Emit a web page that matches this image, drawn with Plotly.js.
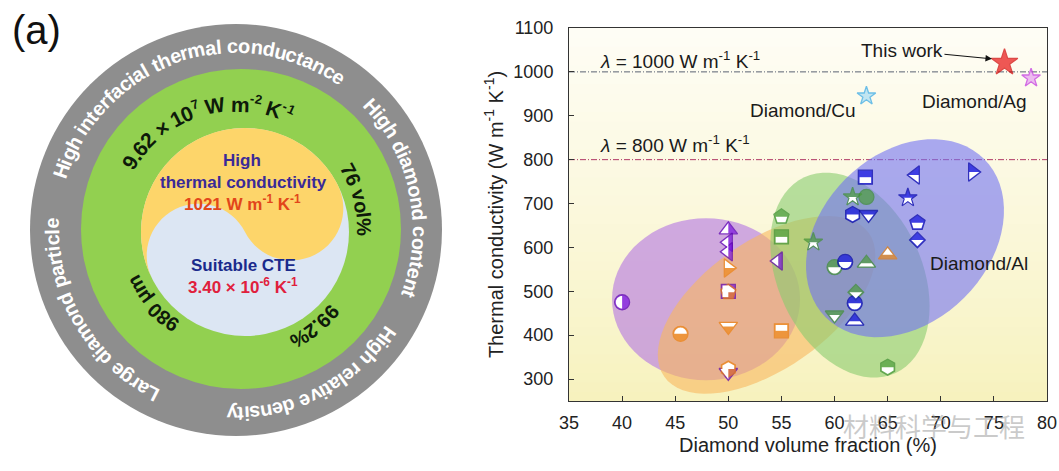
<!DOCTYPE html>
<html><head><meta charset="utf-8">
<script src="https://cdn.plot.ly/plotly-3.0.1.min.js"></script>
<style>html,body{margin:0;padding:0;background:#fff}#chart{width:1059px;height:471px}</style>
</head><body><div id="chart"></div>
<script>
// ================= DATA (panel b) =================
// Diamond/Al composites (blue)
const alX = [62.9, 61.7, 63.2, 67.6, 73.0, 66.9, 67.8, 67.8, 61.0, 61.9, 61.9];
const alY = [760, 675, 675, 765, 772, 713, 656, 617, 567, 473, 432];
const alSym = ['square','hexagon','triangle-down','triangle-left','triangle-right','star','pentagon','diamond','circle','circle','triangle-up'];
// green group
const grX = [55, 55, 58, 61.7, 63, 60, 63, 62, 60, 65];
const grY = [670, 624, 612, 715, 715, 555, 564, 498, 446, 327];
const grSym = ['pentagon','square','star','star','circle','circle','triangle-up','diamond','triangle-down','hexagon'];
// orange group
const orX = [50, 50, 50, 45.5, 55, 50, 65];
const orY = [553, 498, 420, 403, 410, 323, 583];
const orSym = ['triangle-right','pentagon','triangle-down','circle','square','hexagon','triangle-up'];
// purple group
const puX = [40, 50, 50, 50, 54.7, 50, 50];
const puY = [475, 640, 612, 590, 569, 500, 315];
const puSym = ['circle','triangle-up','triangle-left','triangle-left','triangle-left','square','triangle-down'];
// highlighted references
const refNames = ['This work', 'Diamond/Cu', 'Diamond/Ag'];
const refX = [76, 63, 78.5];
const refY = [1021, 945, 986];
// axes ticks and reference lines
const xTicks = [35, 40, 45, 50, 55, 60, 65, 70, 75, 80];
const yTicks = [300, 400, 500, 600, 700, 800, 900, 1000, 1100];
const lambdaValues = [1000, 800];

// ================= STYLE =================
const FONT = 'Liberation Sans, Arial, sans-serif';
const symSize = {'star':14,'circle':15,'square':14,'diamond':12,'pentagon':16,'hexagon':16,
  'triangle-up':16,'triangle-down':16,'triangle-left':16,'triangle-right':16};
const groups = [
  {x:puX, y:puY, sym:puSym, fill:'#7a12e0', line:'#5a00b0', white:'left'},
  {x:orX, y:orY, sym:orSym, fill:'#f08a1a', line:'#ec8010', white:'top'},
  {x:grX, y:grY, sym:grSym, fill:'#4e9e3e', line:'#3f8f33', white:'bottom', solid:[4]},
  {x:alX, y:alY, sym:alSym, fill:'#1212e0', line:'#0000a8', white:'bottom'}
];

function symPoly(sym, r){
  const s3 = Math.sqrt(3);
  switch(sym){
    case 'circle': {const p=[];for(let i=0;i<40;i++){const a=i/40*2*Math.PI;p.push([r*Math.cos(a),r*Math.sin(a)]);}return p;}
    case 'square': return [[r,r],[-r,r],[-r,-r],[r,-r]];
    case 'diamond': {const d=r*1.3;return [[d,0],[0,d],[-d,0],[0,-d]];}
    case 'triangle-up': {const t=r*2/s3;return [[-t,r/2],[t,r/2],[0,-r]];}
    case 'triangle-down': {const t=r*2/s3;return [[-t,-r/2],[t,-r/2],[0,r]];}
    case 'triangle-left': {const t=r*2/s3;return [[r/2,-t],[r/2,t],[-r,0]];}
    case 'triangle-right': {const t=r*2/s3;return [[-r/2,-t],[-r/2,t],[r,0]];}
    case 'pentagon': return [[r*0.951,-r*0.309],[r*0.588,r*0.809],[-r*0.588,r*0.809],[-r*0.951,-r*0.309],[0,-r]];
    case 'hexagon': {const x=r*s3/2;return [[x,-r/2],[x,r/2],[0,r],[-x,r/2],[-x,-r/2],[0,-r]];}
    case 'star': {const q=r*1.4;return [[q*0.225,-q*0.309],[q*0.951,-q*0.309],[q*0.363,q*0.118],[q*0.588,q*0.809],[0,q*0.382],[-q*0.588,q*0.809],[-q*0.363,q*0.118],[-q*0.951,-q*0.309],[-q*0.225,-q*0.309],[0,-q]];}
  }
  return [];
}
function clipPoly(poly, f){
  const out=[];
  for(let i=0;i<poly.length;i++){
    const a=poly[i], b=poly[(i+1)%poly.length], fa=f(a), fb=f(b);
    if(fa>=0) out.push(a);
    if((fa>=0)!==(fb>=0)){const t=fa/(fa-fb);out.push([a[0]+t*(b[0]-a[0]),a[1]+t*(b[1]-a[1])]);}
  }
  return out;
}
const halfTest = {bottom:p=>p[1], top:p=>-p[1], left:p=>-p[0]};

const traces = [];
const shapes = [];

// ---- panel b background gradient (bands) ----
const NB = 40;
for(let i=0;i<NB;i++){
  const t = i/(NB-1); // 0 bottom -> 1 top
  const c0=[247,242,190], c1=[254,253,245];
  const c = c0.map((v,k)=>Math.round(v+(c1[k]-v)*Math.pow(t,0.9)));
  shapes.push({type:'rect', xref:'x2 domain', yref:'y2 domain', x0:0, x1:1, y0:i/NB, y1:(i+1)/NB+0.002,
    fillcolor:`rgb(${c.join(',')})`, line:{width:0}, layer:'below'});
}
// ---- shaded regions (ellipses: center in data units, size in pixels) ----
const regions = [
  {cx:47.9, cy:482, a:94, b:81, ang:0, color:'rgba(179,115,227,0.6)'},
  {cx:53.6, cy:469, a:125, b:64, ang:35, color:'rgba(249,183,95,0.6)'},
  {cx:61.45, cy:537, a:108, b:72, ang:-65, color:'rgba(136,203,110,0.6)'},
  {cx:66.63, cy:621, a:112, b:84, ang:45, color:'rgba(113,114,244,0.6)'}
];
regions.forEach(e=>{
  const ph=e.ang*Math.PI/180, pts=[];
  for(let i=0;i<72;i++){const t=i/72*2*Math.PI;
    pts.push([e.a*Math.cos(t)*Math.cos(ph)-e.b*Math.sin(t)*Math.sin(ph), e.a*Math.cos(t)*Math.sin(ph)+e.b*Math.sin(t)*Math.cos(ph)]);}
  shapes.push({type:'path', xref:'x2', yref:'y2', xsizemode:'pixel', ysizemode:'pixel', xanchor:e.cx, yanchor:e.cy,
    path:'M'+pts.map(p=>p[0].toFixed(2)+','+p[1].toFixed(2)).join('L')+'Z', fillcolor:e.color, line:{width:0}, layer:'below'});
});
// ---- lambda reference lines ----
const lineColors = ['#5b6272','#b03a66'];
lambdaValues.forEach((v,i)=>{
  shapes.push({type:'line', xref:'x2 domain', yref:'y2', x0:0, x1:1, y0:v, y1:v,
    line:{color:lineColors[i], width:1, dash:'6px,2px,1px,2px'}, layer:'below'});
});

// ---- marker traces + white halves ----
groups.forEach(g=>{
  traces.push({type:'scatter', mode:'markers', x:g.x, y:g.y, xaxis:'x2', yaxis:'y2', hoverinfo:'skip',
    marker:{symbol:g.sym, size:g.sym.map(s=>symSize[s]), color:g.fill, line:{color:g.line, width:1.3}}});
  g.x.forEach((xv,i)=>{
    if(g.solid && g.solid.indexOf(i)>=0) return;
    const s=g.sym[i];
    const r=symSize[s]/2, k=(r-1.2)/r;
    const poly=clipPoly(symPoly(s,r).map(p=>[p[0]*k,p[1]*k]), halfTest[g.white]);
    shapes.push({type:'path', xref:'x2', yref:'y2', xsizemode:'pixel', ysizemode:'pixel', xanchor:xv, yanchor:g.y[i],
      path:'M'+poly.map(p=>p[0].toFixed(2)+','+(-p[1]).toFixed(2)).join('L')+'Z', fillcolor:'#ffffff', line:{width:0}, layer:'above'});
  });
});
traces.push({type:'scatter', mode:'markers', x:refX, y:refY, text:refNames, xaxis:'x2', yaxis:'y2', hoverinfo:'text',
  marker:{symbol:'star', size:[20,14,14], color:['#e81212','#a8dcf4','#e6a0f0'], line:{color:['#d00000','#30a6e6','#c030e0'], width:1.3}}});

// ================= PANEL (a) diagram =================
const C0 = [236, 230];
shapes.push({type:'circle', xref:'x', yref:'y', x0:C0[0]-206, x1:C0[0]+206, y0:C0[1]-206, y1:C0[1]+206, fillcolor:'#8e8e8e', line:{width:0}});
shapes.push({type:'circle', xref:'x', yref:'y', x0:241-160, x1:241+160, y0:229-160, y1:229+160, fillcolor:'#92d050', line:{width:0}});
const IC=[245,232], IR=104;
shapes.push({type:'circle', xref:'x', yref:'y', x0:IC[0]-IR, x1:IC[0]+IR, y0:IC[1]-IR, y1:IC[1]+IR, fillcolor:'#dce6f3', line:{width:0}});
(function(){
  const al=27*Math.PI/180, u=[Math.cos(al),-Math.sin(al)], pts=[];
  for(let i=0;i<=60;i++){const t=-al-Math.PI*i/60; pts.push([IC[0]+IR*Math.cos(t), IC[1]+IR*Math.sin(t)]);}
  const q1=[IC[0]-IR/2*u[0], IC[1]-IR/2*u[1]], q2=[IC[0]+IR/2*u[0], IC[1]+IR/2*u[1]];
  for(let i=1;i<=30;i++){const t=(Math.PI-al)+Math.PI*i/30; pts.push([q1[0]+IR/2*Math.cos(t), q1[1]+IR/2*Math.sin(t)]);}
  for(let i=1;i<=30;i++){const t=(Math.PI-al)-Math.PI*i/30; pts.push([q2[0]+IR/2*Math.cos(t), q2[1]+IR/2*Math.sin(t)]);}
  shapes.push({type:'path', xref:'x', yref:'y', path:'M'+pts.map(p=>p[0].toFixed(2)+','+p[1].toFixed(2)).join('L')+'Z', fillcolor:'#fdd56a', line:{width:0}});
})();

const annotations = [];
const cv = document.createElement('canvas').getContext('2d');
function measure(t,size,bold){cv.font=(bold?'bold ':'')+size+'px "Liberation Sans"';return cv.measureText(t).width;}
function arcText(tokens, thetaC, R, size, color, bold){
  const chars=[];
  tokens.forEach(tk=>{const tok=(typeof tk==='string')?{t:tk}:tk; for(const ch of tok.t){const fs=tok.sup?Math.round(size*0.62):size; chars.push({ch,fs,sup:!!tok.sup,w:measure(ch,fs,bold)});}});
  const W=chars.reduce((s,c)=>s+c.w,0); let acc=-W/2;
  chars.forEach(c=>{
    const mid=acc+c.w/2; acc+=c.w; if(c.ch===' ') return;
    const th=thetaC*Math.PI/180+mid/R, rr=c.sup?R+size*0.32:R;
    let deg=th*180/Math.PI; deg=((deg+180)%360+360)%360-180;
    annotations.push({xref:'x', yref:'y', x:C0[0]+rr*Math.sin(th), y:C0[1]-rr*Math.cos(th), text:c.ch, showarrow:false,
      textangle:deg, xanchor:'center', yanchor:'middle', font:{family:FONT, size:c.fs, color:color, weight:bold?700:400}});
  });
}
arcText(['High interfacial thermal conductance'], -19, 184, 20, '#ffffff', true);
arcText(['High diamond content'], 78.5, 184, 20, '#ffffff', true);
arcText(['High relative density'], 152.7, 184, 20, '#ffffff', true);
arcText(['Large diamond particle'], 239.5, 184, 20, '#ffffff', true);
arcText(['9.62 × 10',{t:'7',sup:true},' W m',{t:'-2',sup:true},' K',{t:'-1',sup:true}], -17, 126, 21, '#0e1a0a', true);
arcText(['76 vol%'], 76, 128, 20, '#0e1a0a', true);
arcText(['99.2%'], 141, 126, 20, '#0e1a0a', true);
arcText(['980 μm'], 228.5, 114, 20, '#0e1a0a', true);

function addA(x,y,text,size,color,bold,extra){annotations.push(Object.assign({xref:'x', yref:'y', x, y, text, showarrow:false, xanchor:'center', yanchor:'middle',
  font:{family:FONT,size,color,weight:bold?700:400}}, extra||{}));}
addA(242,160,'High',17,'#3a2a98',true);
addA(243,182,'thermal conductivity',17,'#3a2a98',true);
addA(242,203,'1021 W m<sup>-1</sup> K<sup>-1</sup>',17,'#e2461a',true);
addA(243,265,'Suitable CTE',17,'#1a2a8c',true);
addA(243,286,'3.40 × 10<sup>-6</sup> K<sup>-1</sup>',17,'#e0203c',true);
addA(36,30,'(a)',40,'#111',false);
addA(484,24,'(b)',40,'#111',false);

// ---- panel b texts ----
function addB(x,y,text,size,extra){annotations.push(Object.assign({xref:'x2', yref:'y2', x, y, text, showarrow:false, xanchor:'center', yanchor:'middle',
  font:{family:FONT,size,color:'#1a1a1a'}}, extra||{}));}
addB(37.7, 1026, '<i>λ</i> = 1000 W m<sup>-1</sup> K<sup>-1</sup>', 19, {xanchor:'left'});
addB(37.7, 835, '<i>λ</i> = 800 W m<sup>-1</sup> K<sup>-1</sup>', 19, {xanchor:'left'});
addB(75.1, 1029, 'This work', 19, {showarrow:true, ax:-93, ay:-9, arrowhead:2, arrowsize:1.3, arrowwidth:1, arrowcolor:'#111', standoff:3});
addB(57.0, 913, 'Diamond/Cu', 19);
addB(73.2, 932, 'Diamond/Ag', 19);
addB(68.8, 564, 'Diamond/Al', 19, {xanchor:'left'});
annotations.push({xref:'paper', yref:'paper', x:934/1059, y:(471-425)/471, text:'材料科学与工程', showarrow:false,
  font:{family:'Noto Sans CJK SC', size:26, color:'rgba(150,150,150,0.5)'}, xanchor:'center', yanchor:'middle'});

const axisCommon = {showline:true, linecolor:'#333', linewidth:1, mirror:true, ticks:'inside', ticklen:5, tickcolor:'#333',
  showgrid:false, zeroline:false, fixedrange:true, tickfont:{family:FONT, size:18, color:'#222'}};
const layout = {
  width:1059, height:471, margin:{l:0,r:0,t:0,b:0}, paper_bgcolor:'#ffffff', plot_bgcolor:'rgba(0,0,0,0)', showlegend:false,
  font:{family:FONT},
  xaxis:{domain:[0,460/1059], range:[0,460], visible:false, fixedrange:true},
  yaxis:{domain:[0,1], range:[471,0], visible:false, fixedrange:true, anchor:'x'},
  xaxis2:Object.assign({}, axisCommon, {domain:[569/1059,1047/1059], range:[35,80], anchor:'y2', tickvals:xTicks, ticklabelstandoff:5,
    title:{text:'Diamond volume fraction (%)', font:{family:FONT,size:20,color:'#222'}, standoff:6}}),
  yaxis2:Object.assign({}, axisCommon, {domain:[70/471,443/471], range:[250,1100], anchor:'x2', tickvals:yTicks, ticklabelstandoff:11,
    title:{text:'Thermal conductivity (W m<sup>-1</sup> K<sup>-1</sup>)', font:{family:FONT,size:20,color:'#222'}, standoff:4}}),
  shapes, annotations
};
Plotly.newPlot('chart', traces, layout, {staticPlot:true, displayModeBar:false});
</script></body></html>
